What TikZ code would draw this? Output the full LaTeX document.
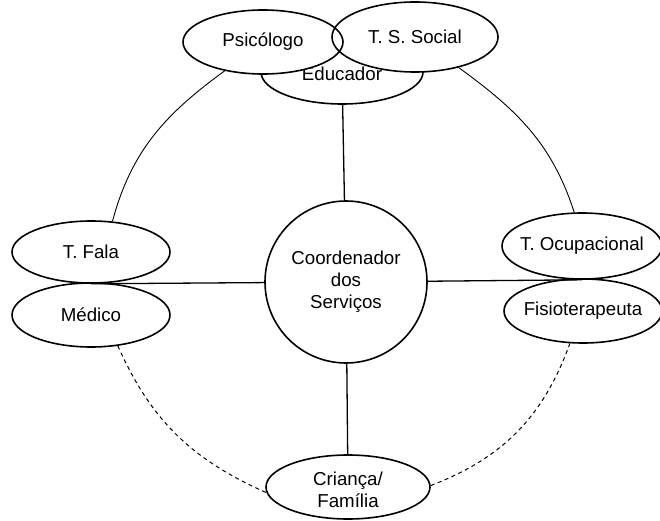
\documentclass[tikz,border=0pt]{standalone}
\usepackage{fontspec}
\setmainfont{Liberation Sans}
\usetikzlibrary{shapes.geometric}

\tikzset{
  x=1pt, y=1pt,
  txt/.style={font=\fontsize{18.7}{22}\selectfont, align=center, inner sep=0pt},
  member/.style={ellipse, draw, line width=1.6pt, inner sep=0pt},
  hub/.style={circle, draw, line width=1.6pt, inner sep=0pt, minimum size=162pt, txt},
  spoke/.style={line width=1.3pt},
  ring/.style={line width=0.9pt},
  ringdash/.style={line width=1pt, dash pattern=on 4pt off 3.5pt},
}

\begin{document}
\begin{tikzpicture}
\useasboundingbox (0,0) rectangle (660,520);

% centres of the two top ellipses that overlap the educator
\coordinate (psiC) at (263,478);
\coordinate (tssC) at (415,483);

% educator sits behind the two top ellipses
\node[member, minimum width=162pt, minimum height=64pt,
      label={[txt, yshift=-2pt]center:Educador}] (edu) at (342,448) {};

% white bodies of the top ellipses, then both outlines on top
\fill[white] (psiC) ellipse [x radius=80, y radius=32];
\fill[white] (tssC) ellipse [x radius=83, y radius=35];
\node[member, minimum width=160pt, minimum height=64pt,
      label={[txt]center:Psicólogo}] (psi) at (psiC) {};
\node[member, minimum width=166pt, minimum height=70pt,
      label={[txt]center:T. S. Social}] (tss) at (tssC) {};

% side and bottom members
\node[member, minimum width=158pt, minimum height=62pt,
      label={[txt]center:T. Fala}] (fala) at (91,268) {};
\node[member, minimum width=158pt, minimum height=64pt,
      label={[txt]center:Médico}] (med) at (91,205) {};
\node[member, minimum width=160pt, minimum height=66pt,
      label={[txt]center:T. Ocupacional}] (tocup) at (582,274) {};
\node[member, minimum width=158pt, minimum height=64pt,
      label={[txt]center:Fisioterapeuta}] (fisio) at (583,209) {};
\node[member, minimum width=164pt, minimum height=64pt,
      label={[txt, yshift=-3pt]center:Criança/\\Família}] (crianca) at (348,33) {};

% coordinator in the middle
\node[hub] (coord) at (346,238) {Coordenador\\dos\\Serviços};

% spokes
\draw[spoke] (edu) -- (coord);
\draw[spoke] (coord) -- (crianca);
\draw[spoke] (fala.south) -- (coord);
\draw[spoke] (tocup.south) -- (coord);

% outer ring: solid above, dashed below
\draw[ring] (psi.217) to[out=216, in=75] (fala.55);
\draw[ring] (tss.-35) to[out=-36, in=108] (tocup.103);
\draw[ringdash] (med.-49) to[out=-66, in=156] (crianca.184);
\draw[ringdash] (crianca.1) to[out=21, in=250] (fisio.248);
\end{tikzpicture}
\end{document}
